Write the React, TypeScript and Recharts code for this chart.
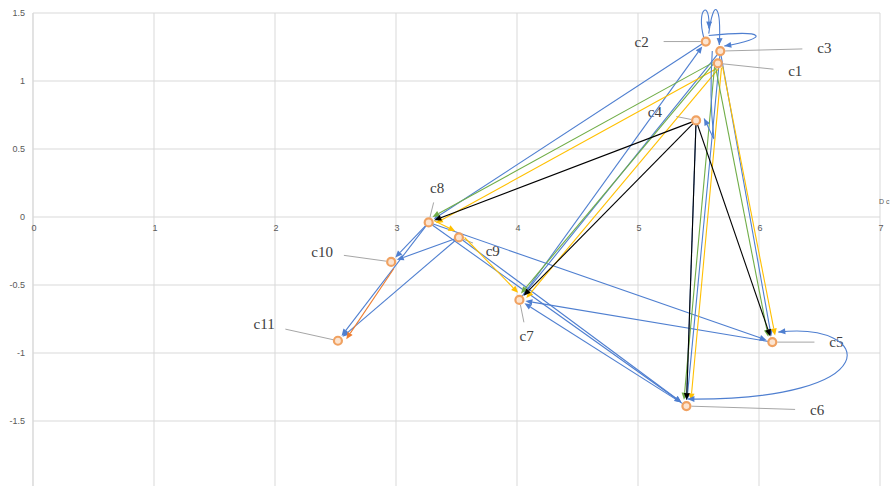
import React from "react";
import {
  CartesianGrid,
  ReferenceDot,
  ReferenceLine,
  Scatter,
  ScatterChart,
  XAxis,
  YAxis,
} from "recharts";

// points
const names = ["c1", "c2", "c3", "c4", "c5", "c6", "c7", "c8", "c9", "c10", "c11"];
const xs = [5.66, 5.56, 5.68, 5.48, 6.11, 5.4, 4.02, 3.27, 3.52, 2.96, 2.52];
const ys = [1.13, 1.29, 1.22, 0.71, -0.92, -1.39, -0.61, -0.04, -0.15, -0.33, -0.91];

// where each label text sits
const labelXs = [6.3, 5.03, 6.54, 5.14, 6.64, 6.48, 4.08, 3.34, 3.8, 2.39, 1.91];
const labelYs = [1.07, 1.29, 1.24, 0.77, -0.92, -1.42, -0.875, 0.21, -0.25, -0.26, -0.79];

const xTicks = [0, 1, 2, 3, 4, 5, 6, 7];
const yTicks = [1.5, 1, 0.5, 0, -0.5, -1, -1.5];

// arrows, [from, to]
const blackArrows = [["c4", "c8"], ["c4", "c7"], ["c4", "c5"], ["c4", "c6"]];
const yellowArrows = [["c1", "c8"], ["c1", "c7"], ["c1", "c5"], ["c1", "c6"], ["c8", "c9"], ["c9", "c7"]];
const greenArrows = [["c1", "c8"], ["c1", "c7"], ["c1", "c5"], ["c1", "c6"]];
const blueArrows = [
  ["c2", "c8"], ["c7", "c2"], ["c3", "c5"], ["c3", "c6"], ["c3", "c7"],
  ["c8", "c10"], ["c9", "c10"], ["c8", "c11"], ["c9", "c11"],
  ["c8", "c5"], ["c5", "c7"], ["c6", "c7"], ["c8", "c6"], ["c9", "c6"], ["c4", "c6"],
];
const orangeArrows = [["c10", "c11"]];

const BLUE = "#4F7FD0";
const YELLOW = "#FFC000";
const GREEN = "#70AD47";
const ORANGE = "#ED7D31";

const idx = (n: string) => names.indexOf(n);
const pt = (n: string) => ({ x: xs[idx(n)], y: ys[idx(n)] });

const arrowShape = (color: string, shift = 0, width = 1.1) => (p: any) => {
  const { x1, y1, x2, y2 } = p;
  const dx = x2 - x1;
  const dy = y2 - y1;
  const len = Math.hypot(dx, dy) || 1;
  const ux = dx / len;
  const uy = dy / len;
  const nx = -uy * shift;
  const ny = ux * shift;
  const sx = x1 + nx + ux * 4;
  const sy = y1 + ny + uy * 4;
  const ex = x2 + nx - ux * 6;
  const ey = y2 + ny - uy * 6;
  const hl = 7;
  const hw = 3;
  const bx = ex - ux * hl;
  const by = ey - uy * hl;
  const pts = `${ex},${ey} ${bx - uy * hw},${by + ux * hw} ${bx + uy * hw},${by - ux * hw}`;
  return (
    <g>
      <line x1={sx} y1={sy} x2={bx} y2={by} stroke={color} strokeWidth={width} />
      <polygon points={pts} fill={color} />
    </g>
  );
};

const head = (tx: number, ty: number, fx: number, fy: number, color: string) => {
  const len = Math.hypot(tx - fx, ty - fy) || 1;
  const ux = (tx - fx) / len;
  const uy = (ty - fy) / len;
  const bx = tx - ux * 7;
  const by = ty - uy * 7;
  return (
    <polygon
      points={`${tx},${ty} ${bx - uy * 3},${by + ux * 3} ${bx + uy * 3},${by - ux * 3}`}
      fill={color}
    />
  );
};

// hand-drawn curved arrows
const loopShape = (s: number[], e: number[], c1: number[], c2: number[], both: boolean) => (p: any) => {
  const sx = p.x1 + s[0];
  const sy = p.y1 + s[1];
  const ex = p.x2 + e[0];
  const ey = p.y2 + e[1];
  const ax = sx + c1[0];
  const ay = sy + c1[1];
  const bx = ex + c2[0];
  const by = ey + c2[1];
  return (
    <g>
      <path d={`M${sx},${sy} C${ax},${ay} ${bx},${by} ${ex},${ey}`} fill="none" stroke={BLUE} strokeWidth={1.1} />
      {head(ex, ey, bx, by, BLUE)}
      {both ? head(sx, sy, ax, ay, BLUE) : null}
    </g>
  );
};

const leaderShape = (name: string) => (p: any) => {
  const { x1, y1, x2, y2 } = p;
  const dx = x2 - x1;
  const dy = y2 - y1;
  const len = Math.hypot(dx, dy) || 1;
  const ux = dx / len;
  const uy = dy / len;
  const gap = 12 + 10 * Math.abs(ux);
  return (
    <g>
      <line
        x1={x1 + ux * 5}
        y1={y1 + uy * 5}
        x2={x2 - ux * gap}
        y2={y2 - uy * gap}
        stroke="#A6A6A6"
        strokeWidth={1}
      />
      <text
        x={x2}
        y={y2}
        textAnchor="middle"
        dominantBaseline="central"
        fontFamily="'Liberation Serif', serif"
        fontSize={15}
        fill="#404040"
      >
        {name}
      </text>
    </g>
  );
};

const pointShape = (p: any) => (
  <circle cx={p.cx} cy={p.cy} r={4} fill="#FCE4D0" stroke="#F0A262" strokeWidth={2.2} />
);

const App: React.FC = () => {
  const data = names.map((n, i) => ({ x: xs[i], y: ys[i], name: n }));

  const arrows = (list: string[][], color: string, shift: number, key: string) =>
    list.map(([a, b], i) => (
      <ReferenceLine
        key={`${key}${i}`}
        segment={[pt(a), pt(b)]}
        ifOverflow="visible"
        shape={arrowShape(color, shift)}
      />
    ));

  return (
    <div
      style={{
        position: "absolute",
        left: 0,
        top: 0,
        width: 890,
        height: 486,
        overflow: "hidden",
        background: "#fff",
      }}
    >
      <ScatterChart width={890} height={490} margin={{ top: 13, right: 10, bottom: 1, left: 0 }}>
        <CartesianGrid stroke="#D9D9D9" />
        <XAxis type="number" dataKey="x" domain={[0, 7]} ticks={xTicks} hide />
        <YAxis
          type="number"
          dataKey="y"
          domain={[-2, 1.5]}
          ticks={yTicks}
          width={33}
          tickSize={0}
          tickMargin={8}
          tickLine={false}
          axisLine={{ stroke: "#D9D9D9" }}
          tick={{ fontSize: 9, fill: "#595959", fontFamily: "'Liberation Sans', sans-serif" }}
        />
        {xTicks.map((t) => (
          <ReferenceDot
            key={`xt${t}`}
            x={t}
            y={0}
            ifOverflow="visible"
            shape={(p: any) => (
              <text
                x={p.cx + 1}
                y={p.cy + 14}
                textAnchor="middle"
                fontSize={9}
                fill="#595959"
                fontFamily="'Liberation Sans', sans-serif"
              >
                {t}
              </text>
            )}
          />
        ))}
        <ReferenceDot
          x={7}
          y={0}
          ifOverflow="visible"
          shape={(p: any) => (
            <text x={p.cx - 1} y={p.cy - 13} fontSize={7} fill="#595959" fontFamily="'Liberation Sans', sans-serif">
              D c
            </text>
          )}
        />
        {names.map((n, i) => (
          <ReferenceLine
            key={`lb${n}`}
            segment={[pt(n), { x: labelXs[i], y: labelYs[i] }]}
            ifOverflow="visible"
            shape={leaderShape(n)}
          />
        ))}
        {arrows(blueArrows, BLUE, 0, "b")}
        {arrows(yellowArrows, YELLOW, -4, "y")}
        {arrows(greenArrows, GREEN, 3, "g")}
        {arrows(blackArrows, "#000", 0, "k")}
        {arrows(orangeArrows, ORANGE, -6, "o")}
        <ReferenceLine
          segment={[pt("c5"), pt("c6")]}
          ifOverflow="visible"
          shape={loopShape([6, -10], [1, -7], [97, -11], [203, 2], true)}
        />
        <ReferenceLine
          segment={[pt("c2"), pt("c3")]}
          ifOverflow="visible"
          shape={loopShape([3, -6], [4, -5], [60, -6], [45, -8], false)}
        />
        <ReferenceLine
          segment={[pt("c2"), pt("c2")]}
          ifOverflow="visible"
          shape={loopShape([-2, -4], [3, -13], [-8, -30], [2, -30], false)}
        />
        <ReferenceLine
          segment={[pt("c2"), pt("c3")]}
          ifOverflow="visible"
          shape={loopShape([3, -8], [-1, -6], [5, -38], [2, -40], false)}
        />
        <ReferenceLine
          segment={[pt("c3"), pt("c4")]}
          ifOverflow="visible"
          shape={loopShape([-8, 0], [8, -2], [-6, 90], [20, 40], false)}
        />
        <Scatter data={data} shape={pointShape} isAnimationActive={false} />
      </ScatterChart>
    </div>
  );
};

export default App;
